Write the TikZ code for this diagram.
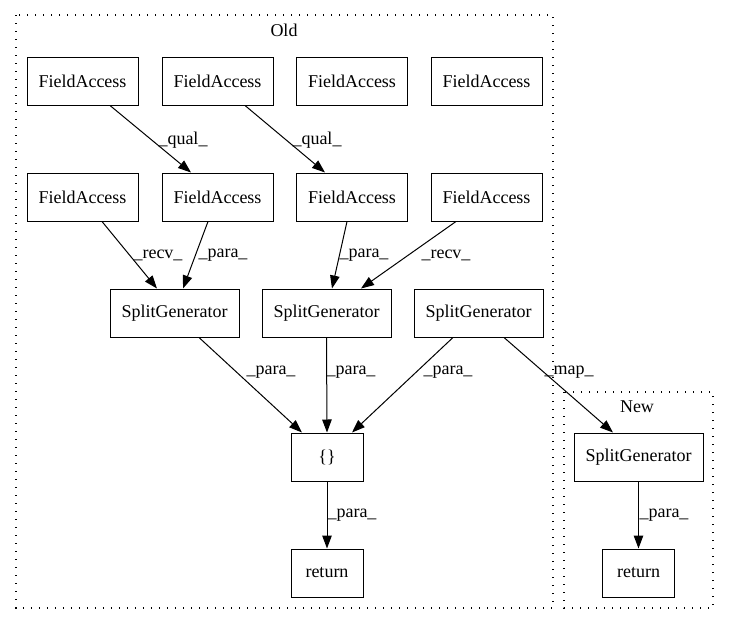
\documentclass[tikz,border=0pt]{standalone}
\usepackage{fontspec}
\setmainfont{Liberation Serif}
\usetikzlibrary{arrows.meta}
\tikzset{
  box/.style={draw, line width=1pt, inner sep=0pt, minimum height=48pt, font=\fontsize{18}{21}\selectfont},
  fa/.style={box, minimum width=111pt},
  sg/.style={box, minimum width=129pt},
  sm/.style={box, minimum width=72pt},
  edge/.style={line width=1pt, -{Triangle[length=13pt,width=9.5pt]}},
  elab/.style={font=\fontsize{18}{21}\selectfont, inner sep=0pt},
  cluster/.style={line width=1.2pt, dash pattern=on 1.2pt off 6.8pt},
  clab/.style={font=\fontsize{18}{21}\selectfont, inner sep=0pt}
}
\begin{document}
\begin{tikzpicture}[x=1pt,y=-1pt]
\useasboundingbox (0,0) rectangle (729,624);
% clusters
\draw[cluster] (16,15) rectangle (553,608);
\node[clab] (oldlab) at (284,30) {Old};
\draw[cluster] (564,392) rectangle (713,608);
\node[clab] (newlab) at (637,407) {New};
% nodes
\node[fa] (fa1) at (82.5,81) {FieldAccess};
\node[fa] (fa2) at (217.5,81) {FieldAccess};
\node[fa] (fa3) at (352,81) {FieldAccess};
\node[fa] (fa4) at (486.5,81) {FieldAccess};
\node[fa] (fa5) at (82.5,197) {FieldAccess};
\node[fa] (fa6) at (217.5,197) {FieldAccess};
\node[fa] (fa7) at (352,197) {FieldAccess};
\node[fa] (fa8) at (486.5,197) {FieldAccess};
\node[sg] (sg1) at (174.5,313) {SplitGenerator};
\node[sg] (sg2) at (326.5,313) {SplitGenerator};
\node[sg] (sg3) at (478.5,313) {SplitGenerator};
\node[sm] (br) at (327,457) {\{\}};
\node[sm] (ret) at (327,573) {return};
\node[sg] (sg4) at (638.5,457) {SplitGenerator};
\node[sm] (ret2) at (638.5,573) {return};
% edges
\draw[edge] ([xshift=27.5pt]fa1.south) -- ([xshift=-26.5pt]fa6.north);
\draw[edge] ([xshift=27.5pt]fa2.south) -- ([xshift=-27pt]fa7.north);
\draw[edge] ([xshift=19.5pt]fa5.south) -- ([xshift=-17.5pt]sg1.north);
\draw[edge] ([xshift=-9.5pt]fa6.south) -- ([xshift=8.5pt]sg1.north);
\draw[edge] ([xshift=-5pt]fa7.south) -- ([xshift=5.5pt]sg2.north);
\draw[edge] ([xshift=-30.5pt]fa8.south) -- ([xshift=34.5pt]sg2.north);
\draw[edge] ([xshift=24.5pt]sg1.south) -- ([xshift=-25pt]br.north);
\draw[edge] (sg2.south) -- (br.north);
\draw[edge] ([xshift=-25.5pt]sg3.south) -- ([xshift=25pt]br.north);
\draw[edge] ([xshift=25.5pt]sg3.south) -- ([xshift=-25.5pt]sg4.north);
\draw[edge] (br.south) -- (ret.north);
\draw[edge] (sg4.south) -- (ret2.north);
% edge labels
\node[elab] at (183,140) {\_qual\_};
\node[elab] at (317,140) {\_qual\_};
\node[elab] at (158,255) {\_recv\_};
\node[elab] at (223,255) {\_para\_};
\node[elab] at (364,255) {\_para\_};
\node[elab] at (446,255) {\_recv\_};
\node[elab] at (271,372) {\_para\_};
\node[elab] at (351,372) {\_para\_};
\node[elab] at (448,372) {\_para\_};
\node[elab] at (569,372) {\_map\_};
\node[elab] at (352,515) {\_para\_};
\node[elab] at (664,515) {\_para\_};
\end{tikzpicture}
\end{document}
